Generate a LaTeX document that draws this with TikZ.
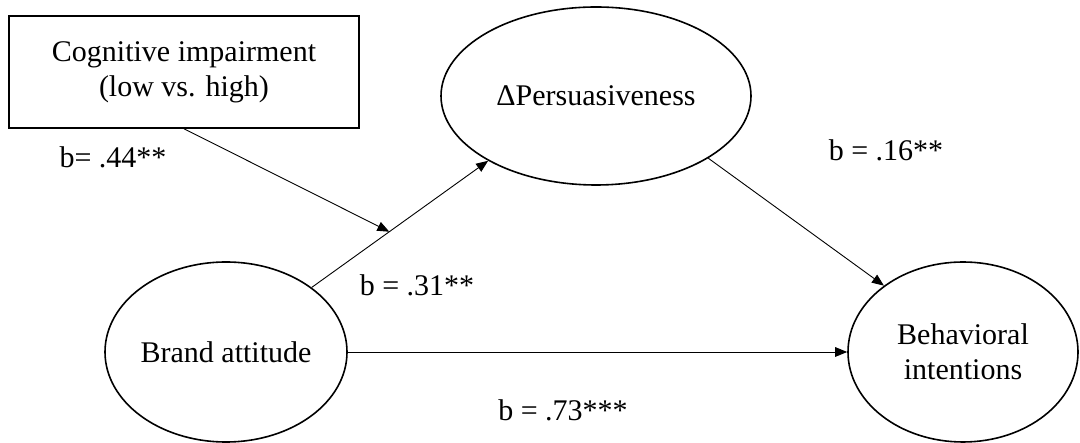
\documentclass[tikz,border=0pt]{standalone}
\usepackage{fontspec}
\setmainfont{Liberation Serif}
\usetikzlibrary{shapes.geometric,arrows.meta}

\begin{document}
\begin{tikzpicture}[x=0.5pt, y=0.5pt, font=\fontsize{15}{17.5}\selectfont,
    var/.style={draw, ellipse, line width=0.8pt, inner sep=0pt, align=center},
    effect/.style={-{Triangle[length=6pt,width=4.8pt]}, line width=0.45pt}]
    \useasboundingbox (0,0) rectangle (1080,443);

    % moderator
    \node[draw, line width=0.8pt, minimum width=175pt, minimum height=56pt, align=center]
      (cog) at (184,371) {Cognitive impairment\\(low vs. high)};

    % variables
    \node[var, minimum width=155pt, minimum height=89pt] (pers) at (596,347) {ΔPersuasiveness};
    \node[var, minimum width=121pt, minimum height=90pt] (brand) at (226,91) {Brand attitude};
    \node[var, minimum width=115pt, minimum height=90pt] (behav) at (963,91) {Behavioral\\intentions};

    % paths
    \draw[effect] (brand.37) -- coordinate[pos=0.44] (mid) (pers.211);
    \draw[effect] (cog.south) -- (mid);
    \draw[effect] (pers.331) -- (behav.140);
    \draw[effect] (brand.east) -- (behav.west);

    % coefficients
    \node (b44) at (113,286) {b= .44**};
    \node (b31) at (417,158) {b = .31**};
    \node (b16) at (886,293) {b = .16**};
    \node (b73) at (563,33) {b = .73***};
\end{tikzpicture}
\end{document}
